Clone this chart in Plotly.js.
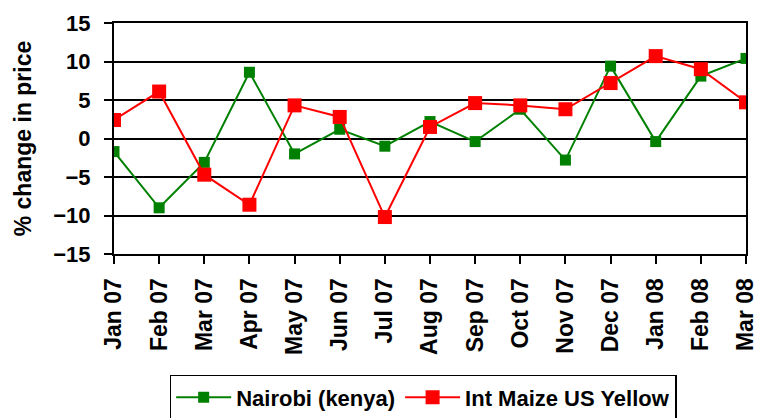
<!DOCTYPE html>
<html>
<head>
<meta charset="utf-8">
<script src="https://cdn.plot.ly/plotly-3.0.1.min.js"></script>
<style>html,body{margin:0;padding:0;background:#fff;}#chart{width:757px;height:418px;}</style>
</head>
<body>
<div id="chart"></div>
<script>
var months = ["Jan 07","Feb 07","Mar 07","Apr 07","May 07","Jun 07","Jul 07","Aug 07","Sep 07","Oct 07","Nov 07","Dec 07","Jan 08","Feb 08","Mar 08"];
var nairobi = [-1.7, -9.0, -3.1, 8.6, -2.0, 1.2, -1.0, 2.2, -0.4, 3.8, -2.8, 9.4, -0.4, 8.1, 10.4];
var intMaize = [2.4, 6.1, -4.7, -8.6, 4.3, 2.8, -10.2, 1.5, 4.6, 4.3, 3.8, 7.2, 10.7, 9.0, 4.7];
var yTicks = [-15, -10, -5, 0, 5, 10, 15];

var FONT = "Liberation Sans, Arial, sans-serif";

var traces = [
  {
    x: months, y: nairobi, name: "Nairobi (kenya)", type: "scatter", mode: "lines+markers",
    line: {color: "#008000", width: 2},
    marker: {symbol: "square", size: 11, color: "#008000"}
  },
  {
    x: months, y: intMaize, name: "Int Maize US Yellow", type: "scatter", mode: "lines+markers",
    line: {color: "#ff0000", width: 2},
    marker: {symbol: "square", size: 14, color: "#ff0000"}
  }
];

var layout = {
  width: 757, height: 418,
  margin: {l: 114, r: 11, t: 23, b: 164},
  paper_bgcolor: "#ffffff", plot_bgcolor: "#ffffff",
  font: {family: FONT, size: 22, color: "#000", weight: "bold"},
  showlegend: true,
  legend: {
    orientation: "h", x: 0.559, xanchor: "center", xref: "container",
    y: 0.103, yanchor: "top", yref: "container",
    bordercolor: "#000", borderwidth: 1.5, bgcolor: "#fff",
    font: {family: FONT, size: 22, color: "#000", weight: "bold"},
    itemwidth: 55, traceorder: "normal"
  },
  xaxis: {
    type: "category", range: [0, 14],
    showline: true, linecolor: "#000", linewidth: 2, mirror: true,
    ticks: "outside", ticklen: 8, tickcolor: "#000", tickwidth: 2,
    tickangle: -90, showgrid: false, zeroline: false,
    tickfont: {family: FONT, size: 23, color: "#000", weight: "bold"},
    ticklabelstandoff: 5
  },
  yaxis: {
    range: [-15, 15], tickvals: yTicks,
    showline: true, linecolor: "#000", linewidth: 2, mirror: true,
    ticks: "outside", ticklen: 8, tickcolor: "#000", tickwidth: 2,
    showgrid: true, gridcolor: "#000", gridwidth: 2,
    zeroline: true, zerolinecolor: "#000", zerolinewidth: 2,
    tickfont: {family: FONT, size: 22, color: "#000", weight: "bold"},
    ticklabelstandoff: 9,
    title: {text: "% change in price", font: {family: FONT, size: 23, color: "#000", weight: "bold"}, standoff: 15}
  }
};

Plotly.newPlot("chart", traces, layout, {displayModeBar: false, staticPlot: true});
</script>
</body>
</html>
